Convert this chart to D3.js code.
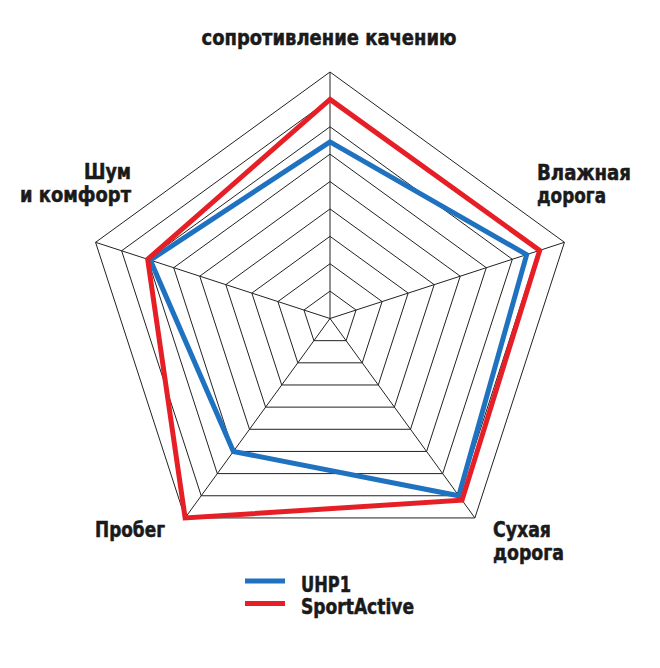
<!DOCTYPE html>
<html>
<head>
<meta charset="utf-8">
<script src="https://cdn.jsdelivr.net/npm/d3@7"></script>
<style>
  html, body { margin: 0; padding: 0; background: #fff; }
  svg text {
    font-family: "Liberation Sans Narrow", "DejaVu Sans Condensed", sans-serif;
    font-weight: bold;
    font-size: 21px;
    fill: #1a1a1a;
    stroke: #1a1a1a;
    stroke-width: 0.5px;
  }
</style>
</head>
<body>
<svg id="chart" width="660" height="668"></svg>
<script>
// Axes of the radar, clockwise from the top
const axes = ["сопротивление качению", "Влажная дорога", "Сухая дорога", "Пробег", "Шум и комфорт"];
// Scores on a 0–9 scale (one ring per point)
const uhp1 = [6.45, 7.55, 8.0, 6.0, 6.9];
const sportActive = [8.0, 8.05, 8.2, 9.0, 7.0];
const seriesNames = ["UHP1", "SportActive"];
const seriesColors = ["#1f72bf", "#e61e25"];
const ringLevels = [1, 2, 3, 4, 5, 6, 7, 8, 9];

const svg = d3.select("#chart");
const cx = 330, cy = 318.5, R = 246.5;

const r = d3.scaleLinear().domain([0, 9]).range([0, R]);
const angle = d3.scaleLinear().domain([0, axes.length]).range([0, 2 * Math.PI]);

const g = svg.append("g").attr("transform", `translate(${cx},${cy})`);

// rings
const ringLine = d3.lineRadial()
  .angle((d, i) => angle(i))
  .radius(d => r(d))
  .curve(d3.curveLinearClosed);

g.append("g").selectAll("path")
  .data(ringLevels)
  .join("path")
  .attr("d", lvl => ringLine(axes.map(() => lvl)))
  .attr("fill", "none")
  .attr("stroke", "#222")
  .attr("stroke-width", 1);

// spokes
g.append("g").selectAll("line")
  .data(axes)
  .join("line")
  .attr("x1", 0).attr("y1", 0)
  .attr("x2", (d, i) => r(9) * Math.sin(angle(i)))
  .attr("y2", (d, i) => -r(9) * Math.cos(angle(i)))
  .attr("stroke", "#222")
  .attr("stroke-width", 1);

// series polygons
[uhp1, sportActive].forEach((vals, k) => {
  g.append("path")
    .attr("d", ringLine(vals))
    .attr("fill", "none")
    .attr("stroke", seriesColors[k])
    .attr("stroke-width", 5)
    .attr("stroke-linejoin", "miter");
});

// condensed text: each line is fitted to its set width
function label(sel, s, x, y, anchor, width) {
  return sel.append("text")
    .attr("x", x).attr("y", y)
    .attr("text-anchor", anchor)
    .attr("textLength", width)
    .attr("lengthAdjust", "spacingAndGlyphs")
    .text(s);
}

// axis labels
const labels = [
  { lines: ["сопротивление качению"], widths: [255], x: 329, y: 45, anchor: "middle" },
  { lines: ["Влажная", "дорога"], widths: [94, 69], x: 537, y: 180, anchor: "start" },
  { lines: ["Сухая", "дорога"], widths: [58, 71], x: 493, y: 537, anchor: "start" },
  { lines: ["Пробег"], widths: [70], x: 95, y: 537, anchor: "start" },
  { lines: ["Шум", "и комфорт"], widths: [47, 111], x: 131, y: 179, anchor: "end" }
];
labels.forEach(l => {
  l.lines.forEach((s, i) => label(svg, s, l.x, l.y + i * 23, l.anchor, l.widths[i]));
});

// legend
const legendWidths = [50, 113];
const legend = svg.append("g").attr("transform", "translate(245,581)");
seriesNames.forEach((name, i) => {
  legend.append("line")
    .attr("x1", 0).attr("x2", 40)
    .attr("y1", i * 22.5).attr("y2", i * 22.5)
    .attr("stroke", seriesColors[i])
    .attr("stroke-width", 5);
  label(legend, name, 56, i * 22.5 + 10.5, "start", legendWidths[i]);
});
</script>
</body>
</html>
